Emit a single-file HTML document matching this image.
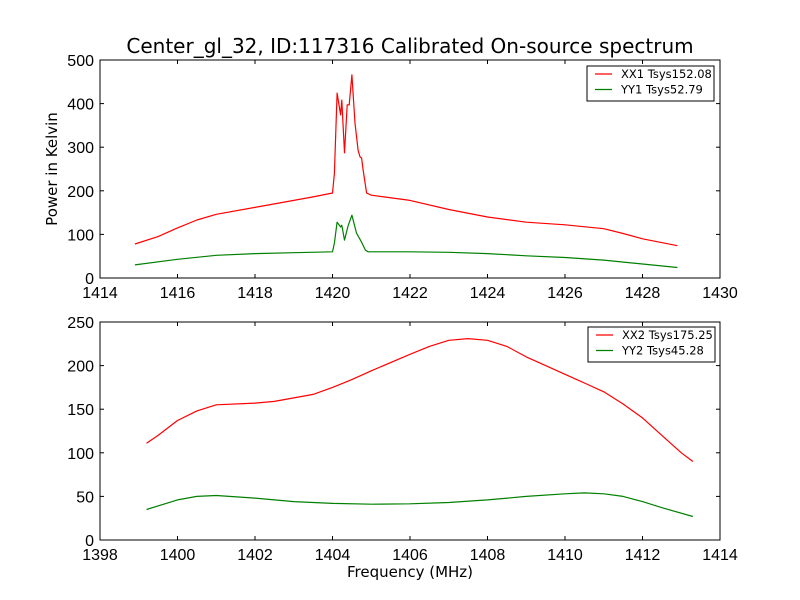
<!DOCTYPE html>
<html><head><meta charset="utf-8"><style>
body{margin:0;background:#fff;}
svg{display:block;font-family:"Liberation Sans","DejaVu Sans",sans-serif;}
.dj{font-family:"DejaVu Sans","Liberation Sans",sans-serif;}
</style></head><body>
<svg id="chart" width="800" height="600"></svg>
<script>
// Top panel data (frequency MHz, power K)
const topFreqXX1 = [1414.9,1415.5,1416,1416.5,1417,1418,1419,1419.5,1420,1420.05,1420.12,1420.21,1420.24,1420.31,1420.38,1420.43,1420.5,1420.58,1420.66,1420.71,1420.75,1420.79,1420.88,1421,1422,1423,1424,1425,1426,1427,1427.5,1428,1428.9];
const topValsXX1 = [78,95,115,133,146,162,178,186,195,240,424,374,408,287,397,397,466,355,293,278,275,248,195,190,178,157,140,128,122,113,102,90,74];
const topFreqYY1 = [1414.9,1416,1417,1418,1419,1420,1420.05,1420.12,1420.21,1420.24,1420.31,1420.4,1420.5,1420.62,1420.75,1420.85,1420.92,1421,1422,1423,1424,1425,1426,1427,1428,1428.9];
const topValsYY1 = [30,43,52,56,58,60,80,128,117,121,87,119,144,103,82,64,60,60,60,59,56,51,47,41,32,24];
// Bottom panel data
const botFreqXX2 = [1399.2,1399.5,1400,1400.5,1401,1402,1402.5,1403,1403.5,1404,1404.5,1405,1406,1406.5,1407,1407.5,1408,1408.5,1409,1409.5,1410,1410.5,1411,1411.5,1412,1412.5,1413,1413.3];
const botValsXX2 = [111,120,137,148,155,157,159,163,167,175,184,194,213,222,229,231,229,222,210,200,190,180,170,156,140,120,100,90];
const botFreqYY2 = [1399.2,1400,1400.5,1401,1402,1403,1404,1405,1406,1407,1408,1409,1410,1410.5,1411,1411.5,1412,1412.5,1413.3];
const botValsYY2 = [35,46,50,51,48,44,42,41,41.5,43,46,50,53,54,53,50,44,37,27];
const topXTicks = [1414,1416,1418,1420,1422,1424,1426,1428,1430];
const topYTicks = [0,100,200,300,400,500];
const botXTicks = [1398,1400,1402,1404,1406,1408,1410,1412,1414];
const botYTicks = [0,50,100,150,200,250];

const NS="http://www.w3.org/2000/svg";
const svg=document.getElementById('chart');
function mk(tag,attrs,parent){const e=document.createElementNS(NS,tag);for(const k in attrs)e.setAttribute(k,attrs[k]);(parent||svg).appendChild(e);return e;}

function panel(p){
  const g=mk('g',{});
  
  
  const sx=v=>p.x0+(v-p.xmin)/(p.xmax-p.xmin)*(p.x1-p.x0);
  const sy=v=>p.y1-(v-p.ymin)/(p.ymax-p.ymin)*(p.y1-p.y0);
  p.series.forEach(s=>{
    const pts=s.f.map((f,i)=>sx(f).toFixed(1)+','+sy(s.v[i]).toFixed(1)).join(' ');
    const l=mk('polyline',{points:pts,fill:'none',stroke:s.color,'stroke-width':1.2,'stroke-linejoin':'round'},g);
    
    
  });
  const fr=mk('rect',{x:p.x0,y:p.y0,width:p.x1-p.x0,height:p.y1-p.y0,fill:'none',stroke:'#000','stroke-width':1},g);
  
  
  p.xt.forEach(t=>{
    const x=sx(t);
    mk('line',{x1:x,x2:x,y1:p.y1,y2:p.y1-4,stroke:'#000'},g);
    mk('line',{x1:x,x2:x,y1:p.y0,y2:p.y0+4,stroke:'#000'},g);
    const tx=mk('text',{x:x,y:p.y1+20,'text-anchor':'middle','font-size':16},g);
    tx.textContent=t;
    
    
  });
  p.yt.forEach(t=>{
    const y=sy(t);
    mk('line',{x1:p.x0,x2:p.x0+4,y1:y,y2:y,stroke:'#000'},g);
    mk('line',{x1:p.x1,x2:p.x1-4,y1:y,y2:y,stroke:'#000'},g);
    const tx=mk('text',{x:p.x0-6,y:y+6,'text-anchor':'end','font-size':16},g);
    tx.textContent=t;
    
    
  });
  const lg=mk('g',{},g);
  
  
  mk('rect',{x:p.lx,y:p.ly,width:127,height:35,fill:'#fff',stroke:'#000','stroke-width':1},lg);
  p.series.forEach((s,i)=>{
    const yy=p.ly+8+i*15.5;
    mk('line',{x1:p.lx+8,x2:p.lx+25,y1:yy,y2:yy,stroke:s.color,'stroke-width':1.2},lg);
    const tx=mk('text',{x:p.lx+34,y:yy+4,'font-size':11.5,'class':'dj'},lg);
    tx.textContent=s.label;
    
    
  });
}
panel({name:'top-panel',x0:100,x1:720,y0:60,y1:278,xmin:1414,xmax:1430,ymin:0,ymax:500,xt:topXTicks,yt:topYTicks,lx:587,ly:66,
  series:[{id:'xx1',f:topFreqXX1,v:topValsXX1,color:'#ff0000',label:'XX1 Tsys152.08'},{id:'yy1',f:topFreqYY1,v:topValsYY1,color:'#008000',label:'YY1 Tsys52.79'}]});
panel({name:'bottom-panel',x0:100,x1:720,y0:322,y1:540,xmin:1398,xmax:1414,ymin:0,ymax:250,xt:botXTicks,yt:botYTicks,lx:588,ly:327,
  series:[{id:'xx2',f:botFreqXX2,v:botValsXX2,color:'#ff0000',label:'XX2 Tsys175.25'},{id:'yy2',f:botFreqYY2,v:botValsYY2,color:'#008000',label:'YY2 Tsys45.28'}]});
let t=mk('text',{x:410,y:53,'text-anchor':'middle','font-size':20,'class':'dj'});
t.textContent='Center_gl_32, ID:117316 Calibrated On-source spectrum';


t=mk('text',{x:57,y:169,'text-anchor':'middle','font-size':15,'class':'dj',transform:'rotate(-90 57 169)'});
t.textContent='Power in Kelvin';


t=mk('text',{x:410,y:577,'text-anchor':'middle','font-size':15,'class':'dj'});
t.textContent='Frequency (MHz)';


</script>
</body></html>
